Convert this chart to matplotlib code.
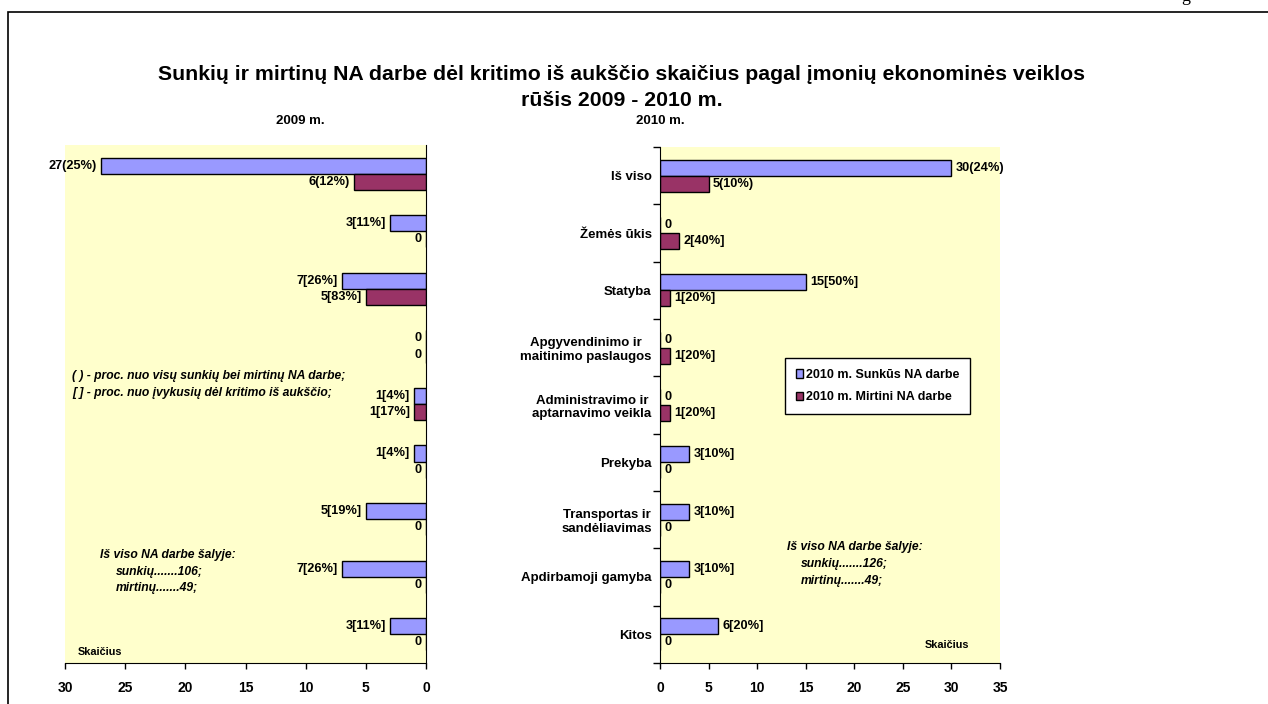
import matplotlib
matplotlib.use("Agg")
import matplotlib.pyplot as plt
from matplotlib.patches import Rectangle
import numpy as np

plt.rcParams['font.family'] = ['Liberation Sans', 'DejaVu Sans']
plt.rcParams['font.weight'] = 'bold'

# ---- duomenys ----
categories = ["Iš viso", "Žemės ūkis", "Statyba", "Apgyvendinimo ir\nmaitinimo paslaugos",
              "Administravimo ir\naptarnavimo veikla", "Prekyba", "Transportas ir\nsandėliavimas",
              "Apdirbamoji gamyba", "Kitos"]

sunkus_2009 = [27, 3, 7, 0, 1, 1, 5, 7, 3]
mirtini_2009 = [6, 0, 5, 0, 1, 0, 0, 0, 0]
sunkus_2009_lbl = ["27(25%)", "3[11%]", "7[26%]", "0", "1[4%]", "1[4%]", "5[19%]", "7[26%]", "3[11%]"]
mirtini_2009_lbl = ["6(12%)", "0", "5[83%]", "0", "1[17%]", "0", "0", "0", "0"]

sunkus_2010 = [30, 0, 15, 0, 0, 3, 3, 3, 6]
mirtini_2010 = [5, 2, 1, 1, 1, 0, 0, 0, 0]
sunkus_2010_lbl = ["30(24%)", "0", "15[50%]", "0", "0", "3[10%]", "3[10%]", "3[10%]", "6[20%]"]
mirtini_2010_lbl = ["5(10%)", "2[40%]", "1[20%]", "1[20%]", "1[20%]", "0", "0", "0", "0"]

c_sunkus = '#9999FF'
c_mirtini = '#993366'
bg = '#FFFFCC'

W, H = 1268, 704
fig = plt.figure(figsize=(W / 100, H / 100), dpi=100)


def fx(px):
    return px / W


def fy(py):
    return 1 - py / H


# remelis aplink diagrama
fig.patches.append(Rectangle((fx(8), -0.05), 1.1, fy(12) + 0.05, transform=fig.transFigure,
                             fill=False, edgecolor='black', linewidth=1.2))
# nukirpta puslapio raide virsuje
fig.text(fx(1186), fy(1), "g", family='Liberation Serif', fontweight='normal', fontsize=13,
         va='baseline', ha='center')

fig.text(0.49, fy(75), "Sunkių ir mirtinų NA darbe dėl kritimo iš aukščio skaičius pagal įmonių ekonominės veiklos",
         ha='center', va='center', fontsize=15.3, fontweight='bold')
fig.text(0.49, fy(101), "rūšis 2009 - 2010 m.", ha='center', va='center', fontsize=15.3, fontweight='bold')
fig.text(fx(300), fy(121), "2009 m.", ha='center', va='center', fontsize=9.5)
fig.text(fx(660), fy(121), "2010 m.", ha='center', va='center', fontsize=9.5)

ax1 = fig.add_axes([fx(65), fy(663), fx(426) - fx(65), fy(145) - fy(663)])
ax2 = fig.add_axes([fx(660), fy(663), fx(1000) - fx(660), fy(147) - fy(663)])

n = len(categories)
y = np.arange(n)
bh = 0.28


def draw(ax, s, m, s_lbl, m_lbl, left):
    ax.set_facecolor(bg)
    ax.barh(y - bh / 2, s, height=bh, color=c_sunkus, edgecolor='black', linewidth=1,
            label="2010 m. Sunkūs NA darbe")
    ax.barh(y + bh / 2, m, height=bh, color=c_mirtini, edgecolor='black', linewidth=1,
            label="2010 m. Mirtini NA darbe")
    off = -3 if left else 3
    ha = 'right' if left else 'left'
    for i in range(n):
        ax.annotate(s_lbl[i], (s[i], y[i] - bh / 2), xytext=(off, 0), textcoords='offset points',
                    ha=ha, va='center', fontsize=9.2)
        ax.annotate(m_lbl[i], (m[i], y[i] + bh / 2), xytext=(off, 0), textcoords='offset points',
                    ha=ha, va='center', fontsize=9.2)
    ax.set_ylim(n - 0.5, -0.5)
    for sp in ax.spines.values():
        sp.set_visible(False)
    ax.spines['bottom'].set_visible(True)
    ax.tick_params(axis='x', direction='out', length=4, width=1, pad=9, labelsize=10)
    for t in ax.get_xticklabels():
        t.set_fontweight('bold')


draw(ax1, sunkus_2009, mirtini_2009, sunkus_2009_lbl, mirtini_2009_lbl, True)
ax1.set_xlim(30, 0)
ax1.set_xticks(range(0, 31, 5))
ax1.spines['right'].set_visible(True)
ax1.set_yticks([])

draw(ax2, sunkus_2010, mirtini_2010, sunkus_2010_lbl, mirtini_2010_lbl, False)
ax2.set_xlim(0, 35)
ax2.set_xticks(range(0, 36, 5))
ax2.spines['left'].set_visible(True)
ax2.set_yticks(y)
ax2.set_yticklabels(categories, fontsize=9.5)
ax2.set_yticks(np.arange(-0.5, n, 1), minor=True)
ax2.tick_params(axis='y', which='major', length=0, pad=6)
ax2.tick_params(axis='y', which='minor', length=5, width=1, direction='out')
for t in ax2.get_yticklabels():
    t.set_multialignment('center')

leg = ax2.legend(loc='upper left', bbox_to_anchor=((785 - 660) / 340, 1 - (358 - 147) / 516),
                 fontsize=9, frameon=True, fancybox=False, edgecolor='black', framealpha=1,
                 handlelength=0.6, handleheight=0.7, handletextpad=0.2, borderpad=0.85,
                 labelspacing=0.85, borderaxespad=0)
leg.get_frame().set_linewidth(1)

# pastabos
it = dict(fontstyle='italic', fontsize=8.7, va='center', ha='left')
fig.text(fx(72), fy(376), "( ) - proc. nuo visų sunkių bei mirtinų NA darbe;", **it)
fig.text(fx(72), fy(393), "[ ] - proc. nuo įvykusių dėl kritimo iš aukščio;", **it)
fig.text(fx(100), fy(555), "Iš viso NA darbe šalyje:", **it)
fig.text(fx(116), fy(572), "sunkių.......106;", **it)
fig.text(fx(116), fy(588), "mirtinų.......49;", **it)
fig.text(fx(787), fy(547), "Iš viso NA darbe šalyje:", **it)
fig.text(fx(801), fy(564), "sunkių.......126;", **it)
fig.text(fx(801), fy(581), "mirtinų.......49;", **it)
fig.text(fx(78), fy(652), "Skaičius", fontsize=7.8, va='center', ha='left')
fig.text(fx(925), fy(645), "Skaičius", fontsize=7.8, va='center', ha='left')

fig.savefig('out.png', dpi=100)
